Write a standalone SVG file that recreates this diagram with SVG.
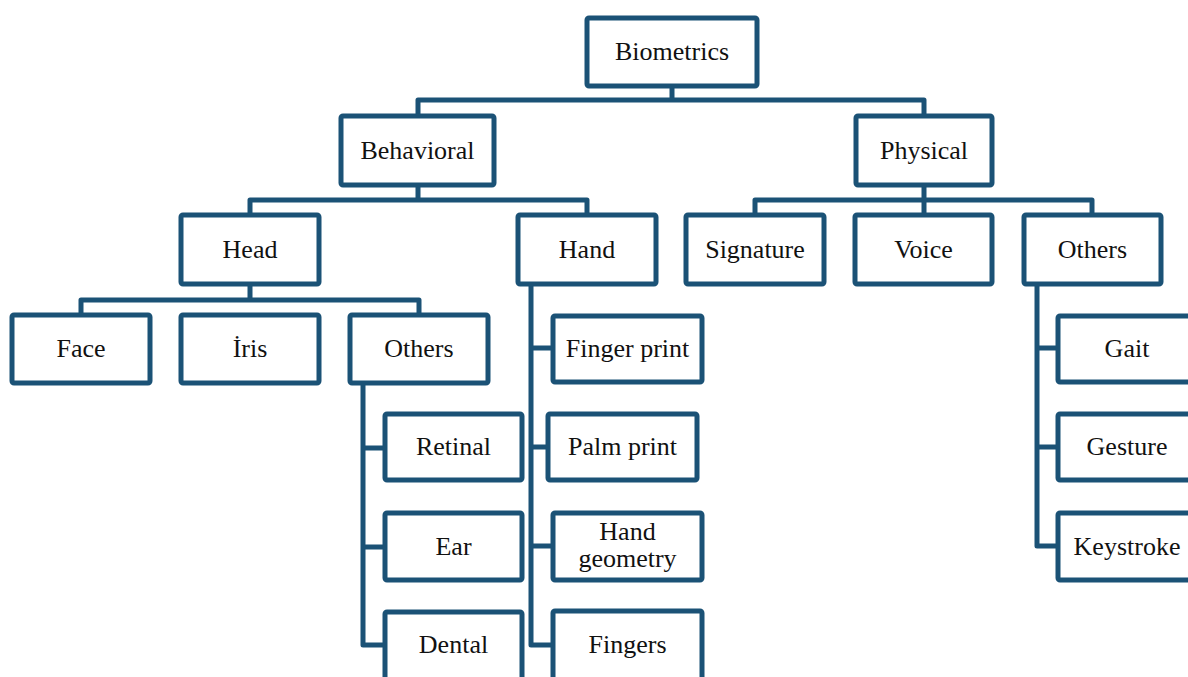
<svg xmlns="http://www.w3.org/2000/svg" width="1188" height="677" viewBox="0 0 1188 677">
<style>
.box{fill:#fff;stroke:#1b5276;stroke-width:5;stroke-linejoin:round}
.con{fill:none;stroke:#1b5276;stroke-width:5;stroke-linejoin:round}
text{font-family:"Liberation Serif","Times New Roman",serif;font-size:26px;fill:#111;text-anchor:middle}
</style>
<rect width="1188" height="677" fill="#fff"/>
<g id="connectors">
<path class="con" d="M672 86V100M418 116V100H924V116"/>
<path class="con" d="M418 185V200M250 215V200H587V215"/>
<path class="con" d="M924 185V215M755 215V200H1092V215"/>
<path class="con" d="M250 284V300M81 315V300H419V315"/>
<path class="con" d="M363 383V645H385M363 448H385M363 547H385"/>
<path class="con" d="M531 284V645H553M531 348H553M531 447H548M531 546H553"/>
<path class="con" d="M1037 284V546H1058M1037 348H1058M1037 447H1058"/>
</g>
<g id="biometrics"><rect class="box" x="587" y="18" width="170" height="68" rx="2"/><text x="672" y="60">Biometrics</text></g>
<g id="behavioral"><rect class="box" x="341" y="116" width="153" height="69" rx="2"/><text x="417.5" y="159">Behavioral</text></g>
<g id="physical"><rect class="box" x="856" y="116" width="136" height="69" rx="2"/><text x="924" y="159">Physical</text></g>
<g id="head"><rect class="box" x="181" y="215" width="138" height="69" rx="2"/><text x="250" y="258">Head</text></g>
<g id="hand"><rect class="box" x="518" y="215" width="138" height="69" rx="2"/><text x="587" y="258">Hand</text></g>
<g id="signature"><rect class="box" x="686" y="215" width="138" height="69" rx="2"/><text x="755" y="258">Signature</text></g>
<g id="voice"><rect class="box" x="855" y="215" width="137" height="69" rx="2"/><text x="923.5" y="258">Voice</text></g>
<g id="others-physical"><rect class="box" x="1024" y="215" width="137" height="69" rx="2"/><text x="1092.5" y="258">Others</text></g>
<g id="face"><rect class="box" x="12" y="315" width="138" height="68" rx="2"/><text x="81" y="357">Face</text></g>
<g id="iris"><rect class="box" x="181" y="315" width="138" height="68" rx="2"/><text x="250" y="357">İris</text></g>
<g id="others-head"><rect class="box" x="350" y="315" width="138" height="68" rx="2"/><text x="419" y="357">Others</text></g>
<g id="retinal"><rect class="box" x="385" y="414" width="137" height="66" rx="2"/><text x="453.5" y="455">Retinal</text></g>
<g id="ear"><rect class="box" x="385" y="513" width="137" height="67" rx="2"/><text x="453.5" y="555">Ear</text></g>
<g id="dental"><rect class="box" x="385" y="612" width="137" height="80" rx="2"/><text x="453.5" y="653">Dental</text></g>
<g id="fingerprint"><rect class="box" x="553" y="316" width="149" height="66" rx="2"/><text x="627.5" y="357">Finger print</text></g>
<g id="palmprint"><rect class="box" x="548" y="414" width="149" height="66" rx="2"/><text x="622.5" y="455">Palm print</text></g>
<g id="handgeometry"><rect class="box" x="553" y="513" width="149" height="67" rx="2"/><text x="627.5" y="540">Hand</text><text x="627.5" y="567">geometry</text></g>
<g id="fingers"><rect class="box" x="553" y="611" width="149" height="80" rx="2"/><text x="627.5" y="653">Fingers</text></g>
<g id="gait"><rect class="box" x="1058" y="316" width="138" height="66" rx="2"/><text x="1127" y="357">Gait</text></g>
<g id="gesture"><rect class="box" x="1058" y="414" width="138" height="66" rx="2"/><text x="1127" y="455">Gesture</text></g>
<g id="keystroke"><rect class="box" x="1058" y="513" width="138" height="67" rx="2"/><text x="1127" y="555">Keystroke</text></g>
</svg>
